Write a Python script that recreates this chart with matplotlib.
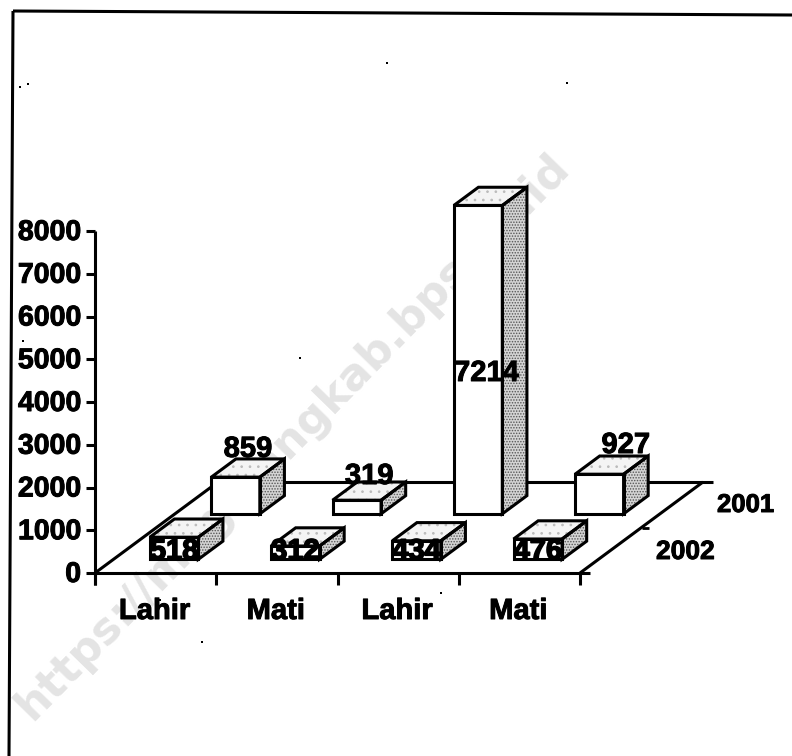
# 3D style bar chart, births and deaths 2001/2002
import matplotlib
matplotlib.use('Agg')
import matplotlib.pyplot as plt
import matplotlib.patheffects as pe
from matplotlib.patches import Polygon

categories = ['Lahir', 'Mati', 'Lahir', 'Mati']
series_names = ['2002', '2001']
values_2002 = [518, 312, 434, 476]
values_2001 = [859, 319, 7214, 927]
y_ticks = [0, 1000, 2000, 3000, 4000, 5000, 6000, 7000, 8000]
watermark = 'https://magelangkab.bps.go.id'
specks_x = [20, 28, 387, 567, 23, 202, 300, 160, 441]
specks_y = [87, 84, 63, 83, 341, 642, 358, 600, 593]

# oblique projection, all in pixels of the final picture
x0, y0 = 95, 573
px_per_unit = 342 / 8000
cat_w = 121.25
row_dx, row_dy = 61.5, -45.5
bar_frac = 0.4

plt.rcParams['font.family'] = ['Liberation Sans', 'DejaVu Sans']
plt.rcParams['font.weight'] = 'bold'
plt.rcParams['hatch.linewidth'] = 0.7

thick = [pe.withStroke(linewidth=0.7, foreground='black')]
smudge = [pe.withStroke(linewidth=1.2, foreground='black')]

fig = plt.figure(figsize=(7.92, 7.56), dpi=100)
ax = fig.add_axes([0, 0, 1, 1])
ax.set_xlim(0, 792)
ax.set_ylim(756, 0)
ax.axis('off')


def proj(cat, row, val=0):
    return (x0 + cat * cat_w + row * row_dx,
            y0 + row * row_dy - val * px_per_unit)


def line(a, b, lw=2.2):
    ax.plot([a[0], b[0]], [a[1], b[1]], color='black', lw=lw,
            solid_capstyle='butt', zorder=2)


def draw_bar(cat, row, val, z):
    c0 = cat + 0.5 - bar_frac / 2
    c1 = cat + 0.5 + bar_frac / 2
    r0 = row + 0.5 - bar_frac / 2
    r1 = row + 0.5 + bar_frac / 2
    front = [proj(c0, r0), proj(c1, r0), proj(c1, r0, val), proj(c0, r0, val)]
    side = [proj(c1, r0), proj(c1, r1), proj(c1, r1, val), proj(c1, r0, val)]
    top = [proj(c0, r0, val), proj(c1, r0, val), proj(c1, r1, val), proj(c0, r1, val)]
    # stipple first, black outline on top of it
    ax.add_patch(Polygon(front, fc='white', ec='none', zorder=z))
    ax.add_patch(Polygon(side, fc='#d4d4d4', ec='#555555', hatch='......', lw=0, zorder=z))
    ax.add_patch(Polygon(top, fc='#f4f4f4', ec='#bbbbbb', hatch='..', lw=0, zorder=z))
    for poly in (front, side, top):
        ax.add_patch(Polygon(poly, fc='none', ec='black', lw=2.2, joinstyle='miter', zorder=z + 0.1))


# watermark sits under everything
ax.text(32, 722, watermark, fontsize=32, family='DejaVu Sans', color='#e4e4e4', rotation=45.7,
        rotation_mode='anchor', ha='left', va='baseline', zorder=0)

# page frame from the scan
line((13, 11), (792, 15))
line((13, 11), (9, 756))
ax.scatter(specks_x, specks_y, s=3, color='black', marker='s', lw=0, zorder=2)

# floor
line(proj(0, 0), (590, y0))
line(proj(0, 0), proj(0, 2))
line(proj(0, 2), (713, y0 + 2 * row_dy))
line(proj(4, 0), proj(4, 2))
line(proj(4, 1), (proj(4, 1)[0] + 7, proj(4, 1)[1]), lw=2)

# y axis
line((x0, proj(0, 0, 8000)[1]), (x0, y0 + 12))
for t in y_ticks:
    yy = proj(0, 0, t)[1]
    line((x0 - 9, yy), (x0, yy))
    ax.text(81, yy - 1, str(t), fontsize=20.5, ha='right', va='center_baseline',
            zorder=5, path_effects=thick)

# category ticks and labels
for i in range(len(categories) + 1):
    line(proj(i, 0), (proj(i, 0)[0], y0 + 12))
for i, name in enumerate(categories):
    ax.text(proj(i + 0.5, 0)[0] - 1, 619, name, fontsize=21, ha='center', va='baseline',
            zorder=5, path_effects=thick)

# series labels at the right
ax.text(717, 512, series_names[1], fontsize=18.5, ha='left', va='baseline', zorder=5, path_effects=thick)
ax.text(656, 559, series_names[0], fontsize=19, ha='left', va='baseline', zorder=5, path_effects=thick)

# back row first, then front row
for i, val in enumerate(values_2001):
    draw_bar(i, 1, val, 3 + i * 0.2)
for i, val in enumerate(values_2002):
    draw_bar(i, 0, val, 4 + i * 0.2)

# the source does not place the labels quite evenly
back_dx = [0, 0, 0, 14]
back_dy = [-2, 2, 0, -3]
for i, val in enumerate(values_2001):
    bx = proj(i + 0.5, 1.5)[0] + back_dx[i]
    if val > 5000:
        ax.text(bx - 4, 373, str(val), fontsize=21, ha='center', va='center',
                zorder=6, path_effects=thick)
    else:
        ax.text(bx, proj(i, 1.7, val)[1] + back_dy[i], str(val), fontsize=21, ha='center', va='baseline',
                zorder=6, path_effects=thick)
for i, val in enumerate(values_2002):
    bx = proj(i + 0.5, 0.3)[0]
    ax.text(bx, proj(i, 0.3)[1], str(val), fontsize=21, ha='center', va='baseline',
            zorder=6, path_effects=smudge)

fig.savefig('out.png', dpi=100, facecolor='white')
